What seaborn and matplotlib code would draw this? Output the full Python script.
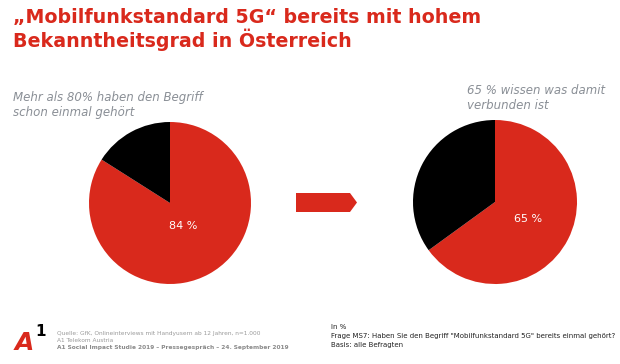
import matplotlib
matplotlib.use("Agg")
import matplotlib.pyplot as plt
import seaborn as sns
from matplotlib.patches import Polygon

# Daten
kategorien = ["gehört / wissen", "nicht gehört / wissen nicht"]
werte_links = [84, 16]
werte_rechts = [65, 35]
farben = ["#d9291c", "#000000"]

titel = "\u201eMobilfunkstandard 5G\u201c bereits mit hohem\nBekanntheitsgrad in \u00d6sterreich"
text_links = "Mehr als 80% haben den Begriff\nschon einmal geh\u00f6rt"
text_rechts = "65 % wissen was damit\nverbunden ist"

sns.set_style("white")
plt.rcParams['font.family'] = ['Verdana', 'DejaVu Sans']

W, H = 620, 364
fig = plt.figure(figsize=(W / 100, H / 100), dpi=100)
fig.patch.set_facecolor("white")


def px(x, y):
    return x / W, 1 - y / H


def torte(cx, cy, r, werte, pctdist):
    ax = fig.add_axes([(cx - r) / W, 1 - (cy + r) / H, 2 * r / W, 2 * r / H])
    ax.pie(werte, colors=farben, startangle=90, counterclock=False,
           autopct=lambda p: f"{p:.0f} %" if p > 50 else "",
           pctdistance=pctdist, textprops=dict(color="white", fontsize=8),
           wedgeprops=dict(linewidth=0))
    ax.set_xlim(-1, 1)
    ax.set_ylim(-1, 1)
    ax.set_aspect("auto")
    ax.axis("off")
    return ax


torte(170, 203, 81, werte_links, 0.33)
torte(495, 202, 82, werte_rechts, 0.45)

# Titel
fig.text(*px(13, 8), titel, color="#d9291c", fontsize=13.7, fontweight="bold",
         va="top", ha="left", linespacing=1.1)

fig.text(*px(13, 105), text_links, color="#8a8f96", fontsize=8.5, style="italic",
         va="center", ha="left", linespacing=1.15)
fig.text(*px(467, 98), text_rechts, color="#8a8f96", fontsize=8.5, style="italic",
         va="center", ha="left", linespacing=1.15)

# Pfeil
pfeil = Polygon([px(296, 193), px(350, 193), px(357, 202.5), px(350, 212), px(296, 212)],
                closed=True, transform=fig.transFigure, facecolor="#d9291c", edgecolor="none")
fig.patches.append(pfeil)

# Logo
fig.text(*px(15, 350), "A", color="#d9291c", fontsize=18, fontweight="bold", style="italic",
         va="baseline", ha="left")
fig.text(*px(35, 336), "1", color="black", fontsize=11, fontweight="bold",
         va="baseline", ha="left")

# Fußnoten
fig.text(*px(57, 333), "Quelle: GfK, Onlineinterviews mit Handyusern ab 12 Jahren, n=1.000",
         color="#9a9a9a", fontsize=4.2, va="center", ha="left")
fig.text(*px(57, 340), "A1 Telekom Austria", color="#9a9a9a", fontsize=4.2, va="center", ha="left")
fig.text(*px(57, 347), "A1 Social Impact Studie 2019 \u2013 Pressegespr\u00e4ch \u2013 24. September 2019",
         color="#8a8a8a", fontsize=4.2, fontweight="bold", va="center", ha="left")

fig.text(*px(331, 327), "In %", color="#222222", fontsize=5, va="center", ha="left")
fig.text(*px(331, 336), "Frage MS7: Haben Sie den Begriff \"Mobilfunkstandard 5G\" bereits einmal geh\u00f6rt?",
         color="#222222", fontsize=5, va="center", ha="left")
fig.text(*px(331, 345), "Basis: alle Befragten", color="#222222", fontsize=5, va="center", ha="left")

fig.savefig("out.png", dpi=100, facecolor="white")
